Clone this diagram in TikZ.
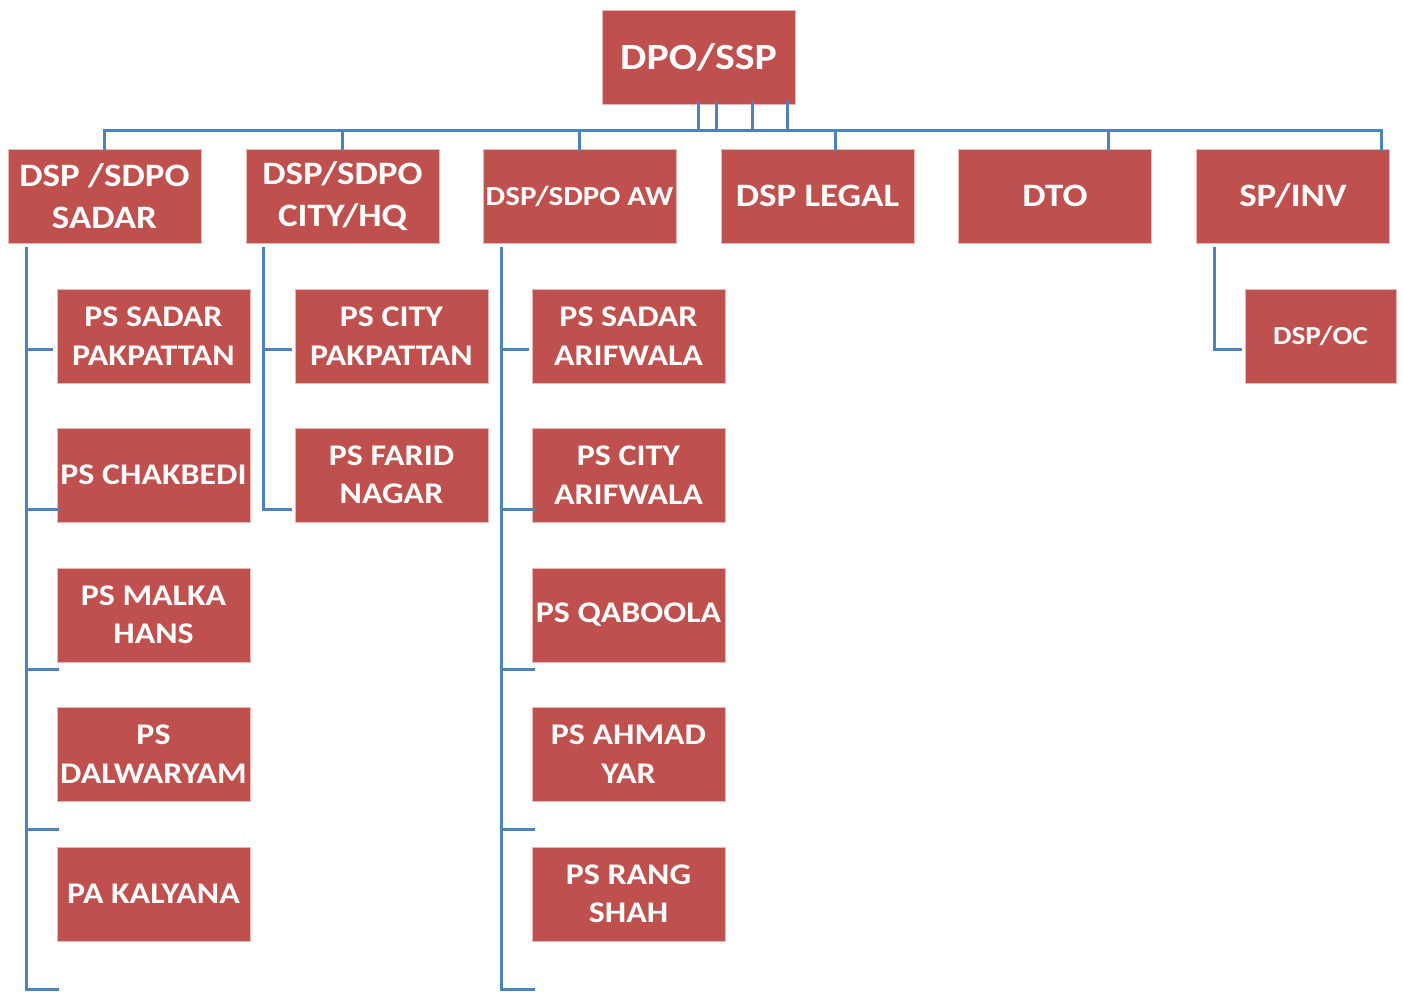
\documentclass[tikz,border=0pt]{standalone}
\usepackage{fontspec}
\setmainfont{Carlito}[FakeStretch=1.13]
\definecolor{boxred}{HTML}{C0504D}
\definecolor{boxedge}{HTML}{E6B9B8}
\definecolor{lineblue}{HTML}{4F81BD}
\tikzset{
  orgbox/.style={rectangle, fill=boxred, draw=boxedge, line width=0.8pt, text=white,
    minimum width=193pt, minimum height=94pt, inner sep=0pt, align=center,
    font=\bfseries\fontsize{30}{38.5}\selectfont},
  topfont/.style={font=\bfseries\fontsize{37}{44}\selectfont},
  midfont/.style={font=\bfseries\fontsize{32.7}{42}\selectfont},
  conn/.style={draw=lineblue, line width=3pt}
}
\begin{document}
\begin{tikzpicture}[x=1pt,y=-1pt]
\useasboundingbox (0,0) rectangle (1403,991);
% top
\node[orgbox,topfont] (top) at (698.5,57) {DPO/SSP};
% level 2
\node[orgbox,midfont] (b1) at (104.5,196) {DSP /SDPO\\SADAR};
\node[orgbox,midfont] (b2) at (342.5,196) {DSP/SDPO\\CITY/HQ};
\node[orgbox,font=\bfseries\fontsize{27.5}{34}\selectfont] (b3) at (579.5,196) {DSP/SDPO AW};
\node[orgbox,midfont] (b4) at (817.5,196) {DSP LEGAL};
\node[orgbox,midfont] (b5) at (1055,196) {DTO};
\node[orgbox,midfont] (b6) at (1293,196) {SP/INV};
% level 3, column 1
\node[orgbox] (p11) at (153.5,336) {PS SADAR\\PAKPATTAN};
\node[orgbox] (p12) at (153.5,475) {PS CHAKBEDI};
\node[orgbox] (p13) at (153.5,615) {PS MALKA\\HANS};
\node[orgbox] (p14) at (153.5,754) {PS\\DALWARYAM};
\node[orgbox] (p15) at (153.5,894) {PA KALYANA};
% column 2
\node[orgbox] (p21) at (391.5,336) {PS CITY\\PAKPATTAN};
\node[orgbox] (p22) at (391.5,475) {PS FARID\\NAGAR};
% column 3
\node[orgbox] (p31) at (628.5,336) {PS SADAR\\ARIFWALA};
\node[orgbox] (p32) at (628.5,475) {PS CITY\\ARIFWALA};
\node[orgbox] (p33) at (628.5,615) {PS QABOOLA};
\node[orgbox] (p34) at (628.5,754) {PS AHMAD\\YAR};
\node[orgbox] (p35) at (628.5,894) {PS RANG\\SHAH};
% column 6
\node[orgbox,minimum width=151pt,font=\bfseries\fontsize{26}{32}\selectfont] (p61) at (1320.5,336) {DSP/OC};

% bus from top
\coordinate (busR) at (1381,130);
\draw[conn] ([yshift=-2]b1.north) |- (busR) -- ([xshift=88,yshift=-2]b6.north);
\foreach \dx in {0,18,54,89}{
  \draw[conn] ([xshift=\dx,yshift=3]top.south) -- ([xshift=\dx]top.south |- busR);
}
\draw[conn] ([yshift=-2]b2.north) -- (b2.north |- busR);
\draw[conn] ([yshift=-2]b3.north) -- (b3.north |- busR);
\draw[conn] ([xshift=18,yshift=-2]b4.north) -- ([xshift=18]b4.north |- busR);
\draw[conn] ([xshift=53,yshift=-2]b5.north) -- ([xshift=53]b5.north |- busR);

% column 1 spine
\coordinate (c1) at (26,247);
\draw[conn] (c1) -- (26,991);
\draw[conn] (26,349) -- ([xshift=-4]p11.west |- 0,349);
\foreach \yy in {509,669,829,989}{
  \draw[conn] (26,\yy) -- ([xshift=2]p11.west |- 0,\yy);
}
% column 2 spine
\coordinate (c2) at (263,247);
\draw[conn] (c2) |- ([xshift=-3]p22.west |- 0,509);
\draw[conn] (263,349) -- ([xshift=-3]p21.west |- 0,349);
% column 3 spine
\coordinate (c3) at (501,247);
\draw[conn] (c3) -- (501,991);
\draw[conn] (501,349) -- ([xshift=-3]p31.west |- 0,349);
\foreach \yy in {509,669,829,989}{
  \draw[conn] (501,\yy) -- ([xshift=3]p31.west |- 0,\yy);
}
% column 6
\coordinate (c6) at (1214,247);
\draw[conn] (c6) |- ([xshift=-3]p61.west |- 0,349);
\end{tikzpicture}
\end{document}
